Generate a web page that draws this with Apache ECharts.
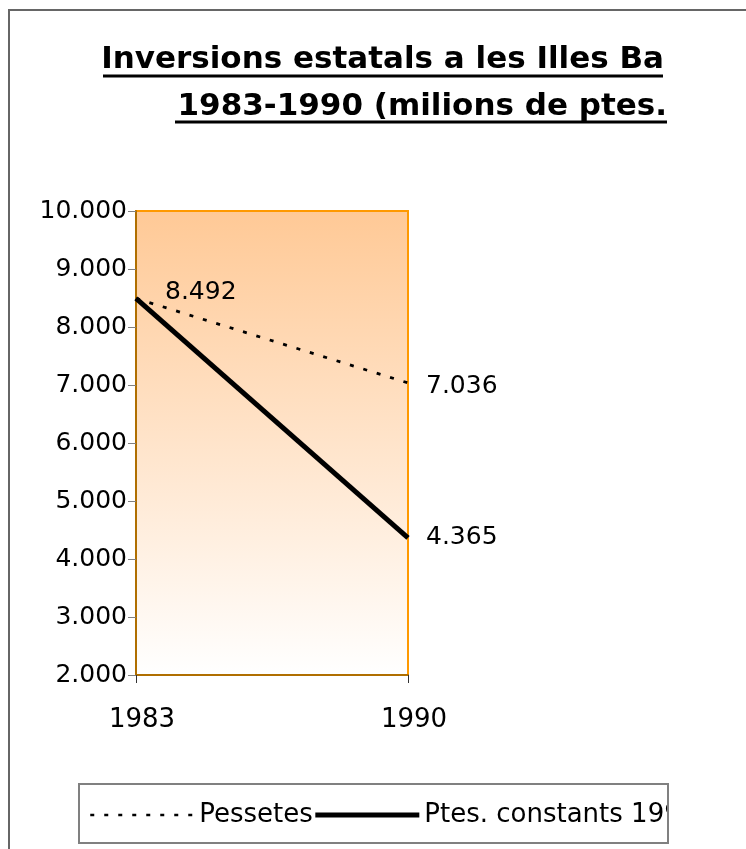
<!DOCTYPE html>
<html>
<head>
<meta charset="utf-8">
<script src="https://cdn.jsdelivr.net/npm/echarts@6/dist/echarts.min.js"></script>
<style>
  html, body { margin: 0; padding: 0; background: #fff; }
  #chart { width: 746px; height: 849px; }
</style>
</head>
<body>
<div id="chart"></div>
<script>
// dades
const years = ['1983', '1990'];
const pessetes = [8492, 7036];
const ptesConstants = [8492, 4365];
const seriesNames = ['Pessetes', 'Ptes. constants 1990'];
const titleLines = ['Inversions estatals a les Illes Ba', '1983-1990 (milions de ptes.'];

const FONT = 'DejaVu Sans';
const DOTTED = [4, 10];

// 10000 -> "10.000"
function fmt(v) {
    return String(v).replace(/\B(?=(\d{3})+(?!\d))/g, '.');
}

const chart = echarts.init(document.getElementById('chart'), null, { renderer: 'canvas' });

const option = {
    backgroundColor: '#fff',
    animation: false,
    title: [
        {
            text: titleLines[0],
            right: 77, top: 39,
            textStyle: { fontFamily: FONT, fontWeight: 'bold', fontSize: 31, color: '#000' }
        },
        {
            text: titleLines[1],
            right: 74, top: 86,
            textStyle: { fontFamily: FONT, fontWeight: 'bold', fontSize: 31, color: '#000' }
        }
    ],
    grid: {
        left: 136, top: 211, right: 338, bottom: 174,
        show: true,
        borderColor: '#ff9900',
        borderWidth: 2,
        backgroundColor: new echarts.graphic.LinearGradient(0, 0, 0, 1, [
            { offset: 0, color: '#ffc996' },
            { offset: 1, color: '#ffffff' }
        ])
    },
    legend: {
        left: 84, top: 797,
        itemWidth: 104, itemHeight: 26, itemGap: 0,
        itemStyle: { color: 'transparent', borderWidth: 0 },
        textStyle: { fontFamily: FONT, fontSize: 26, color: '#000' },
        data: [
            { name: seriesNames[0], lineStyle: { color: '#000', width: 2.5, type: DOTTED } },
            { name: seriesNames[1], lineStyle: { color: '#000', width: 5 } }
        ]
    },
    xAxis: {
        type: 'category',
        data: years,
        boundaryGap: false,
        axisLine: { lineStyle: { color: '#b06f00', width: 2 } },
        axisTick: { show: true, length: 8, lineStyle: { color: '#333' } },
        axisLabel: { margin: 32, padding: [0, 0, 0, 12], fontFamily: FONT, fontSize: 26, color: '#000' },
        splitLine: { show: false }
    },
    yAxis: {
        type: 'value',
        min: 2000, max: 10000, interval: 1000,
        axisLine: { show: true, lineStyle: { color: '#b06f00', width: 2 } },
        axisTick: { show: true, length: 8, lineStyle: { color: '#808080' } },
        axisLabel: { margin: 9, fontFamily: FONT, fontSize: 25, color: '#000', formatter: fmt },
        splitLine: { show: false }
    },
    series: [
        {
            name: seriesNames[0],
            type: 'line',
            data: pessetes,
            symbol: 'circle',
            symbolSize: 0,
            showSymbol: true,
            lineStyle: { color: '#000', width: 2.8, type: DOTTED },
            itemStyle: { color: '#000' },
            label: {
                show: true, position: 'right', distance: 18,
                fontFamily: FONT, fontSize: 25, color: '#000',
                formatter: p => fmt(p.value)
            },
            labelLayout: p => p.dataIndex === 0 ? { dx: 11, dy: -6 } : { dy: 4 },
            z: 3
        },
        {
            name: seriesNames[1],
            type: 'line',
            data: ptesConstants,
            symbol: 'circle',
            symbolSize: 0,
            showSymbol: true,
            lineStyle: { color: '#000', width: 5 },
            itemStyle: { color: '#000' },
            label: {
                show: true, position: 'right', distance: 18,
                fontFamily: FONT, fontSize: 25, color: '#000',
                formatter: p => p.dataIndex === 1 ? fmt(p.value) : ''
            },
            z: 4
        }
    ],
    graphic: [
        // marc exterior
        { type: 'rect', shape: { x: 9, y: 10, width: 800, height: 900 }, style: { fill: null, stroke: '#666', lineWidth: 2 }, silent: true, z: -1 },
        // subratllat del títol
        { type: 'line', shape: { x1: 103, y1: 76, x2: 663, y2: 76 }, style: { stroke: '#000', lineWidth: 3 }, silent: true },
        { type: 'line', shape: { x1: 175, y1: 122, x2: 667, y2: 122 }, style: { stroke: '#000', lineWidth: 3 }, silent: true },
        // tapa el text de la llegenda que surt de la caixa
        { type: 'rect', shape: { x: 669, y: 785, width: 70, height: 58 }, style: { fill: '#fff' }, silent: true, z: 100 },
        // caixa de la llegenda
        { type: 'rect', shape: { x: 79, y: 784, width: 589, height: 59 }, style: { fill: null, stroke: '#808080', lineWidth: 2 }, silent: true, z: 101 }
    ]
};

chart.setOption(option);
</script>
</body>
</html>
